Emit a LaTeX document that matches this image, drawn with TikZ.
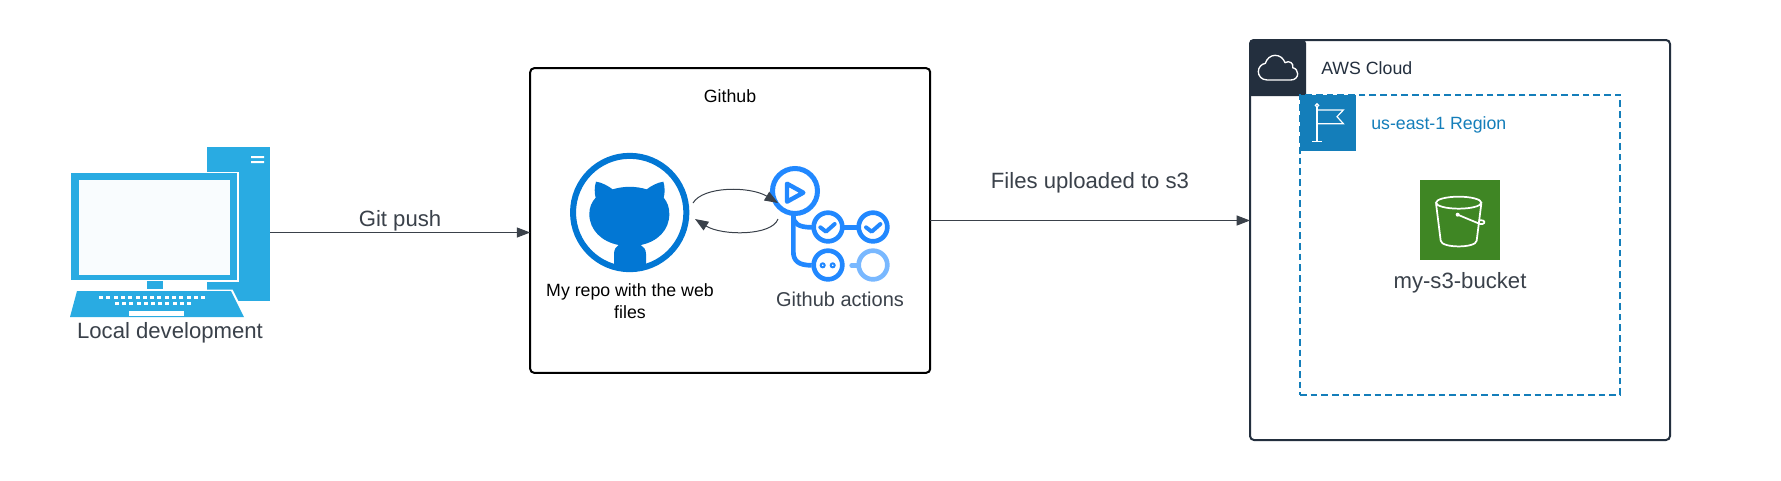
\documentclass[tikz,border=0pt]{standalone}
\usepackage{fontspec}
\setmainfont{Liberation Sans}
\usetikzlibrary{arrows.meta,calc}
\definecolor{txt}{HTML}{3A414A}
\definecolor{pcblue}{HTML}{29ABE2}
\definecolor{ghblue}{HTML}{0277D4}
\definecolor{actblue}{HTML}{2188FF}
\definecolor{actlight}{HTML}{79B8FF}
\definecolor{awsdark}{HTML}{232F3E}
\definecolor{regblue}{HTML}{147EBA}
\definecolor{s3green}{HTML}{3F8624}
\tikzset{
  lbl/.style={inner sep=0pt,text=txt,font=\fontsize{16.6}{20}\selectfont},
  small/.style={inner sep=0pt,font=\fontsize{13.3}{16.3}\selectfont},
  conn/.style={draw=txt,line width=0.75pt,-{Triangle[length=10pt,width=7.5pt]}},
  bigbox/.style={draw=black,line width=1.5pt,rounded corners=3pt,inner sep=0pt,outer sep=0pt},
  act/.style={draw=actblue,line width=3.5pt,fill=white,circle,inner sep=0pt,minimum size=21.5pt,outer sep=0pt},
  zoomA/.style={shift={(530,130)},x=0.25pt,y=-0.25pt},
  pcshape/.style={fill=pcblue,draw=none},
  keyw/.style={fill=white,draw=none},
}
\begin{document}
\begin{tikzpicture}[x=0.75pt,y=-0.75pt]
\useasboundingbox (0,0) rectangle (1781,480);
\fill[white] (0,0) rectangle (1781,480);

% computer
\node[pcshape,inner sep=0pt,minimum width=47.25pt,minimum height=115.5pt] (tower) at (238.5,224) {};
\fill[white] (251,156) rectangle (264,158.2) (251,161) rectangle (264,163.2);
\fill[white] (70,171.5) rectangle (239,282);
\fill[pcblue] (71,173) rectangle (237,279.5);
\fill[white!97!pcblue] (79,180) rectangle (230,275);
\fill[pcblue] (147,281) rectangle (163,289);
\fill[white] (200,289.5) -- (232.5,289.5) -- (247,318) -- (200,318) -- cycle;
\fill[pcblue] (77,291) -- (231,291) -- (244,317) -- (70,317) -- cycle;
\foreach \kx in {99,106.3,...,205} \fill[white] (\kx,295.5) rectangle ++(4,3.4);
\foreach \kx in {115,122.2,...,190} \fill[white] (\kx,301.5) rectangle ++(4,3.4);
\fill[white] (129,311) rectangle (184,316);
\node[lbl] (localtxt) at (170,332.5) {Local development};

% github box
\node[bigbox,minimum width=300pt,minimum height=228.5pt] (github) at (730.2,220.5) {};
\node[small,text=black] (ghtitle) at (730,96) {Github};

% repo
\node[circle,draw=ghblue,line width=4.5pt,inner sep=0pt,outer sep=0pt,minimum size=85pt] (repo) at (629.7,212.5) {};
\begin{scope}[zoomA]
\fill[ghblue] (252,412) -- (252,372) .. controls (252,358) and (258,350) .. (266,345)
  .. controls (215,335) and (178,300) .. (178,252)
  .. controls (178,232) and (185,216) .. (197,203)
  .. controls (193,190) and (193,170) .. (198,155)
  .. controls (215,157) and (235,168) .. (248,178)
  .. controls (280,168) and (318,168) .. (350,178)
  .. controls (363,168) and (383,157) .. (400,155)
  .. controls (405,170) and (405,190) .. (401,203)
  .. controls (412,216) and (418,232) .. (418,252)
  .. controls (418,300) and (383,335) .. (332,345)
  .. controls (341,350) and (348,358) .. (348,372)
  -- (348,412) .. controls (316,420) and (284,420) .. (252,412) -- cycle;
\end{scope}
\node[small,text=black,align=center] (repotxt) at (630,301) {My repo with the web\\files};

% actions
\begin{scope}[zoomA]
\draw[actblue,line width=3.5pt,line cap=round] (790,245) -- (790,258) .. controls (790,280) and (805,292) .. (845,292);
\draw[actblue,line width=3.5pt] (790,245) -- (790,365) .. controls (790,392) and (805,406) .. (845,406);
\draw[actblue,line width=3.5pt] (935,292) -- (985,292);
\draw[actlight,line width=3.5pt,line cap=round] (965,406) -- (985,406);
\end{scope}
\node[act,minimum size=33.75pt,line width=3.75pt] (actions) at (795,191) {};
\node[act] (chk1) at (828,227) {};
\node[act] (chk2) at (873,227) {};
\node[act] (wait) at (828,265) {};
\node[act,draw=actlight] (pend) at (873,265) {};
\begin{scope}[zoomA]
\draw[actblue,line width=3.3pt,line join=round] (771,161) -- (771,215) -- (820,188) -- cycle;
\draw[actblue,line width=3pt,line cap=round,line join=round] (871,292) -- (888,305) -- (914,282);
\draw[actblue,line width=3pt,line cap=round,line join=round] (1008,292) -- (1025,305) -- (1051,282);
\draw[actblue,line width=1.5pt] (878,406) circle[radius=6] (908,406) circle[radius=6];
\end{scope}
\node[inner sep=0pt,text=txt,font=\fontsize{15}{18}\selectfont] (actxt) at (840,299.5) {Github actions};

% loop
\coordinate (loopa) at (693,203);
\coordinate (loopb) at (778,203);
\coordinate (loopc) at (778,219);
\coordinate (loopd) at (695,219);
\draw[conn] (loopa) .. controls (703,186) and (750,186) .. (loopb);
\draw[conn] (loopc) .. controls (772,236) and (722,236) .. (loopd);

% aws
\node[bigbox,draw=awsdark,minimum width=315pt,minimum height=300pt] (aws) at (1460,240) {};
\fill[awsdark] (1249.2,96) -- (1249.2,43) [rounded corners=3pt] -- (1249.2,39.2) -- (1306,39.2) [sharp corners] -- (1306,96) -- cycle;
\begin{scope}[shift={(1240,30)},x=0.25pt,y=-0.25pt]
\draw[white,line width=1pt,line join=round] (82,150) .. controls (64,150) and (55,137) .. (55,125)
  .. controls (55,112) and (64,102) .. (76,100)
  .. controls (80,86) and (92,76) .. (105,76)
  .. controls (120,76) and (130,85) .. (135,98)
  .. controls (148,90) and (162,100) .. (158,113)
  .. controls (168,115) and (173,124) .. (173,131)
  .. controls (173,142) and (165,150) .. (152,150) -- cycle;
\end{scope}
\node[small,text=awsdark,anchor=west] (awstxt) at (1321,68) {AWS Cloud};

% region
\node[draw=regblue,line width=1.2pt,dash pattern=on 5pt off 3pt,minimum width=240pt,minimum height=225pt,inner sep=0pt,outer sep=0pt] (region) at (1460,245) {};
\fill[regblue] (1300,95) rectangle (1356,151);
\begin{scope}[shift={(1240,30)},x=0.25pt,y=-0.25pt]
\draw[white,line width=0.9pt] (231,228) -- (231,335) (217,335) -- (245,335);
\draw[white,line width=0.9pt] (231,226) circle[radius=5];
\draw[white,line width=0.9pt,line join=miter] (231,240) -- (310,240) -- (291,260) -- (310,281) -- (231,281);
\end{scope}
\node[small,text=regblue,anchor=west] (regtxt) at (1371,125.3) {us-east-1 Region};

% s3
\node[fill=s3green,inner sep=0pt,minimum size=60pt] (bucket) at (1460,220) {};
\begin{scope}[shift={(1400,170)},x=0.25pt,y=-0.25pt]
\draw[white,line width=1.3pt] (176,98) ellipse[x radius=68,y radius=18];
\draw[white,line width=1.3pt,line join=round] (108,100) -- (122,212) .. controls (124,235) and (228,235) .. (230,212) -- (244,100);
\fill[white] (173,134) circle[radius=6];
\draw[white,line width=1.3pt,line join=round] (173,134) -- (240,162) .. controls (252,164) and (257,156) .. (250,152) .. controls (245,150) and (240,150) .. (236,152);
\end{scope}
\node[lbl] (s3txt) at (1460,282.5) {my-s3-bucket};

% connectors
\coordinate (pcport) at (tower.east |- 0,232.5);
\draw[conn] (pcport) -- (pcport -| github.west);
\node[lbl] (gittxt) at (400,221) {Git push};
\draw[conn] (github.east) -- (github.east -| aws.west);
\node[lbl] (filestxt) at (1090,182.5) {Files uploaded to s3};
\end{tikzpicture}
\end{document}
